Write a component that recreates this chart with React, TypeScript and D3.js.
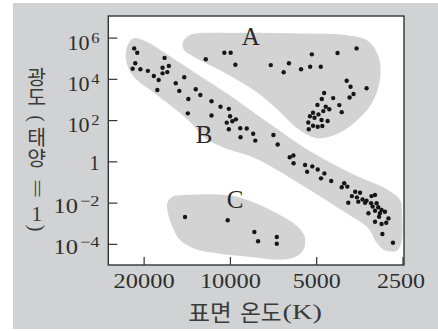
import React from 'react';
import * as d3 from 'd3';

// ---- data (temperature in K, luminosity as log10 of L/Lsun) ----
const mainSeqTemp = [21660, 21140, 21480, 21930, 20610, 19410, 18500, 17790, 16970, 17250, 16400, 17250, 16600, 17990, 15510, 15080, 14490, 14020, 13210, 12730, 14080, 11640, 10830, 11640, 10130, 10030, 10300, 9850, 9570, 10130, 9240, 8770, 9220, 8330, 8190, 7080, 6840, 6210, 6030, 6020, 5490, 5180, 5400, 4960, 4700, 4830, 4450, 4090, 4010, 3910, 3670, 3530, 3770, 3620, 3460, 3580, 3880, 3390, 3350, 3220, 3130, 3230, 3090, 3190, 3050, 2970, 3130, 3300, 3010, 2890, 3030, 2810, 3130, 2970, 2860, 2950, 2710];
const mainSeqLogL = [5.50, 5.29, 4.78, 4.51, 4.49, 4.41, 4.16, 3.97, 5.04, 4.56, 4.65, 4.29, 4.35, 3.48, 3.81, 3.44, 4.10, 3.05, 3.52, 3.24, 2.35, 2.94, 2.67, 2.25, 2.57, 2.21, 1.90, 1.97, 2.06, 1.58, 1.63, 1.62, 1.19, 1.36, 1.03, 1.30, 0.84, 0.22, 0.31, -0.07, -0.15, -0.22, -0.48, -0.37, -0.56, -0.80, -0.93, -1.23, -1.04, -1.20, -1.45, -1.50, -1.66, -1.72, -1.82, -1.93, -1.98, -1.98, -1.88, -1.66, -1.61, -2.01, -2.01, -2.17, -2.20, -2.33, -2.37, -2.49, -2.49, -2.42, -2.66, -2.74, -2.90, -3.01, -2.95, -3.50, -3.92];

const giantTemp = [12190, 10500, 9980, 9610, 7230, 6250, 6520, 5670, 5200, 5270, 4840, 4230, 3630, 3930, 3810, 3720, 3840, 3350, 4710, 4800, 4380, 4170, 4090, 4970, 4650, 4520, 4740, 5150, 4930, 5280, 5090, 4810, 4580, 5350, 5150, 4960, 4780, 5330];
const giantLogL = [4.97, 5.29, 5.29, 4.71, 4.69, 4.78, 4.34, 4.49, 5.21, 4.61, 4.61, 5.28, 5.50, 3.93, 3.64, 3.29, 3.12, 3.57, 3.34, 3.05, 3.09, 2.75, 2.41, 2.76, 2.67, 2.55, 2.46, 2.38, 2.30, 2.21, 2.14, 2.03, 1.98, 1.91, 1.75, 1.70, 1.74, 1.58];

const dwarfTemp = [14400, 10220, 8250, 8010, 6890, 6890];
const dwarfLogL = [-2.67, -2.83, -3.40, -3.85, -3.64, -3.97];

// region outlines (same units)
const regionMainTemp = [22940, 21860, 19860, 16510, 12770, 9640, 7270, 5360, 3820, 2820, 2560, 2520, 2540, 2640, 2910, 3100, 3310, 3950, 5490, 8090, 10440, 12260, 14050, 18030, 21860, 23130];
const regionMainLogL = [5.57, 5.98, 5.86, 5.18, 4.16, 3.05, 1.83, 0.57, -0.54, -1.36, -1.85, -2.58, -3.98, -4.32, -4.27, -3.89, -3.21, -2.48, -1.22, 0.14, 0.67, 1.16, 2.03, 3.24, 4.16, 4.94];
const regionGiantTemp = [14640, 13830, 9790, 5720, 3980, 3310, 3030, 3010, 3210, 3670, 4320, 5030, 5810, 6820, 8200, 10440, 12970, 14520];
const regionGiantLogL = [5.81, 6.15, 6.25, 6.22, 6.15, 5.86, 5.03, 3.97, 2.85, 1.93, 1.30, 1.16, 1.59, 2.51, 3.43, 4.31, 4.99, 5.42];
const regionDwarfTemp = [16640, 15980, 14400, 10270, 8540, 6820, 5810, 5490, 5620, 6290, 8540, 11310, 13290, 14990, 15980];
const regionDwarfLogL = [-2.04, -1.70, -1.61, -1.61, -1.90, -2.53, -3.16, -3.69, -4.37, -4.71, -4.61, -4.42, -4.22, -3.79, -3.11];

const regionLabels = ['A', 'B', 'C'];
const regionLabelTemp = [8490, 12360, 9630];
const regionLabelLogL = [5.66, 0.9, -2.25];

const xTicks = [20000, 10000, 5000, 2500];
const xTickLabels = ['20000', '10000', '5000', '2500'];
const yTicks = [6, 4, 2, 0, -2, -4];

const xTitleKo1 = '표면';
const xTitleKo2 = '온도';
const xTitleUnit = '(K)';
// vertical y title pieces: 광도 ( 태양 = 1 )
const yTitleParts = ['광도', '(', '태양', '=', '1', ')'];

const W = 438;
const H = 331;
const SERIF = '"Liberation Serif", "DejaVu Serif", serif';
const KO = '"Noto Sans CJK KR", "Noto Sans", sans-serif';

const zip = (a: number[], b: number[]) => a.map((v, i) => [v, b[i]] as [number, number]);

export default function App() {
  const left = 108.3, right = 404, top = 16, bottom = 265;
  const x = d3.scaleLog().domain([26670, 2480]).range([left, right]);
  const y = d3.scaleLinear().domain([-5, 7.07]).range([bottom, top]);

  const blob = d3
    .line<[number, number]>()
    .x((d) => x(d[0]))
    .y((d) => y(d[1]))
    .curve(d3.curveCatmullRomClosed.alpha(0.5));

  const regions = [
    zip(regionGiantTemp, regionGiantLogL),
    zip(regionMainTemp, regionMainLogL),
    zip(regionDwarfTemp, regionDwarfLogL),
  ];
  const points = [
    ...zip(mainSeqTemp, mainSeqLogL),
    ...zip(giantTemp, giantLogL),
    ...zip(dwarfTemp, dwarfLogL),
  ];

  const textColor = '#2e2e2e';
  const titleColor = '#3a3a3a';
  const yTitleY = [87.3, 118.5, 147.5, 188.5, 213.5, 228];
  const yTitleX = 36.7;

  return (
    <svg
      width={W}
      height={H}
      viewBox={`0 0 ${W} ${H}`}
      style={{ position: 'absolute', left: 0, top: 0, display: 'block' }}
    >
      <rect x={0} y={0} width={W} height={H} fill="#ffffff" />
      <rect x={13} y={3} width={W - 13} height={326} fill="#d1d2d4" />
      <rect x={left} y={top} width={right - left} height={bottom - top} fill="#ffffff" />

      {regions.map((r, i) => (
        <path key={i} d={blob(r) || ''} fill="#d3d3d3" stroke="none" />
      ))}

      {points.map((p, i) => (
        <circle key={i} cx={x(p[0])} cy={y(p[1])} r={2.2} fill="#161616" />
      ))}

      {regionLabels.map((l, i) => (
        <text
          key={l}
          x={x(regionLabelTemp[i])}
          y={y(regionLabelLogL[i])}
          textAnchor="middle"
          fontFamily={SERIF}
          fontSize={25}
          fill="#262626"
        >
          {l}
        </text>
      ))}

      {/* frame */}
      <rect x={left} y={top} width={right - left} height={bottom - top} fill="none" stroke="#333" strokeWidth={1.4} />

      {/* y ticks */}
      {yTicks.map((t) => (
        <line key={'yt' + t} x1={left} x2={left + 9} y1={y(t)} y2={y(t)} stroke="#333" strokeWidth={1.2} />
      ))}
      {yTicks.map((t) =>
        t === 0 ? (
          <text key={'yl' + t} x={99.5} y={y(t) + 8.5} textAnchor="end" fontFamily={SERIF} fontSize={20} fill={textColor}>
            1
          </text>
        ) : (
          <text
            key={'yl' + t}
            x={99.5}
            y={y(t) + (t > 0 ? 11.5 : 9.5)}
            textAnchor="end"
            fontFamily={SERIF}
            fontSize={20}
            fill={textColor}
            textLength={t > 0 ? 32 : 46}
            lengthAdjust="spacingAndGlyphs"
          >
            10
            <tspan dx={1.5} dy={-7} fontSize={15}>
              {t < 0 ? '\u2212' + Math.abs(t) : String(t)}
            </tspan>
          </text>
        )
      )}

      {/* x ticks */}
      {xTicks.map((t) => (
        <line key={'xt' + t} x1={x(t)} x2={x(t)} y1={bottom} y2={bottom - 8} stroke="#333" strokeWidth={1.2} />
      ))}
      {xTicks.map((t, i) => (
        <text
          key={'xl' + t}
          x={x(t) - (i === 3 ? 2 : 0)}
          y={288}
          textAnchor="middle"
          fontFamily={SERIF}
          fontSize={20}
          fill={textColor}
          textLength={xTickLabels[i].length === 5 ? 61 : 48}
          lengthAdjust="spacingAndGlyphs"
        >
          {xTickLabels[i]}
        </text>
      ))}

      {/* x title */}
      <text x={188.3} y={320.5} fontFamily={KO} fontSize={23} fill={titleColor} textLength={43.4} lengthAdjust="spacingAndGlyphs">
        {xTitleKo1}
      </text>
      <text x={240} y={320.5} fontFamily={KO} fontSize={23} fill={titleColor} textLength={41.7} lengthAdjust="spacingAndGlyphs">
        {xTitleKo2}
      </text>
      <text x={282.5} y={318.5} fontFamily={SERIF} fontSize={22} fill={titleColor} textLength={39.5} lengthAdjust="spacingAndGlyphs">
        {xTitleUnit}
      </text>

      {/* y title, vertical (upright stacked glyphs) */}
      {yTitleParts.map((c, i) => {
        const cy = yTitleY[i];
        if (c.length === 2) {
          return (
            <text
              key={'yc' + i}
              x={yTitleX}
              y={cy}
              textAnchor="middle"
              writingMode="vertical-rl"
              style={{ textOrientation: 'upright' } as React.CSSProperties}
              fontFamily={KO}
              fontSize={20.5}
              fill={titleColor}
            >
              {c}
            </text>
          );
        }
        if (c === '1') {
          return (
            <text key={'yc' + i} x={yTitleX} y={cy} textAnchor="middle" dominantBaseline="central" fontFamily={SERIF} fontSize={22} fill={titleColor}>
              {c}
            </text>
          );
        }
        const sx = c === '=' ? 1.7 : 1;
        return (
          <text
            key={'yc' + i}
            transform={`translate(${yTitleX},${cy}) rotate(90) scale(${sx},1)`}
            textAnchor="middle"
            dominantBaseline="central"
            fontFamily={SERIF}
            fontSize={20}
            fill={titleColor}
          >
            {c}
          </text>
        );
      })}
    </svg>
  );
}
